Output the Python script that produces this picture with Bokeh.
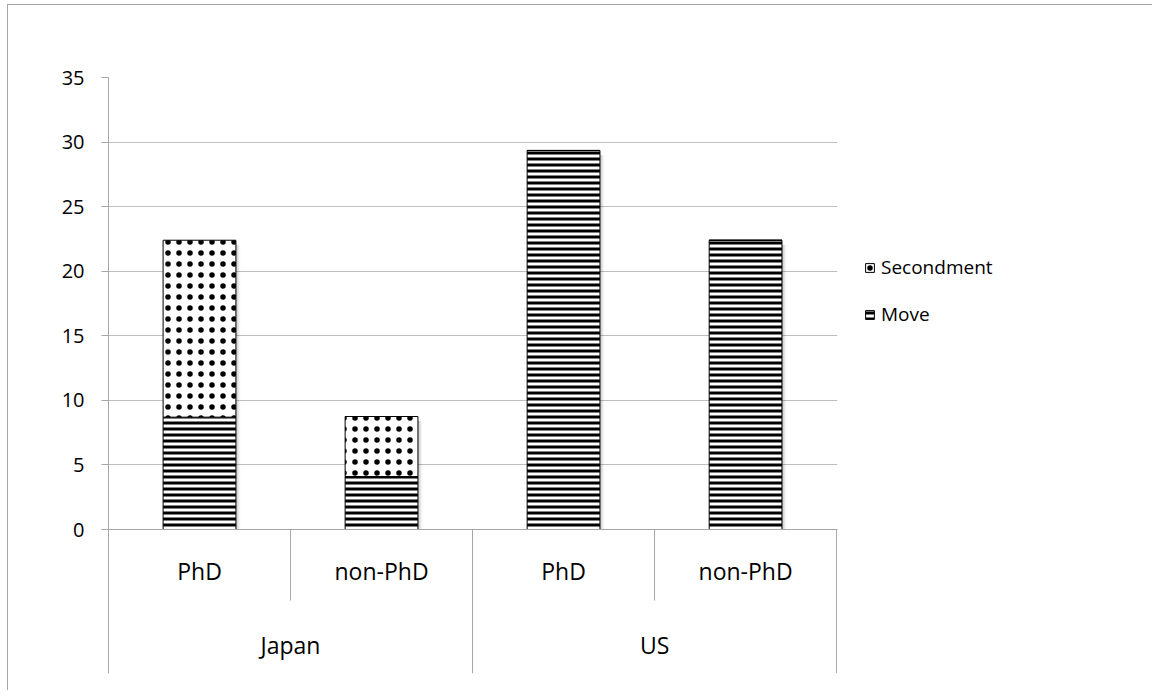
from bokeh.plotting import figure
from bokeh.models import (ColumnDataSource, FixedTicker, Range1d, Span, Legend,
                          LegendItem)
from bokeh.core.properties import value
from bokeh.embed import file_html
from bokeh.resources import INLINE

# ---- data ----
groups = ["Japan", "Japan", "US", "US"]
sub_labels = ["PhD", "non-PhD", "PhD", "non-PhD"]
move = [8.7, 4.1, 29.35, 22.4]
secondment = [13.7, 4.65, 0.0, 0.0]
y_ticks = [0, 5, 10, 15, 20, 25, 30, 35]

FONT = "Open Sans"
GRID = "#bebebe"
AXIS = "#a6a6a6"

n = len(sub_labels)
xs = [i + 0.5 for i in range(n)]
totals = [m + s for m, s in zip(move, secondment)]
src = ColumnDataSource(dict(x=xs, move=move, secondment=secondment))

Y_BOTTOM = -11.15
p = figure(frame_width=729, frame_height=596, output_backend="svg",
           toolbar_location=None,
           x_range=Range1d(0, n + 0.005), y_range=Range1d(Y_BOTTOM, 35),
           min_border_left=100, min_border_right=0,
           min_border_top=72, min_border_bottom=17,
           background_fill_color="white", border_fill_color="white",
           outline_line_color=None)
p.styles = {"margin-top": "-4px", "margin-left": "-1px",
            "transform": "translate(8px, 8px)", "min-width": "1136px",
            "background-color": "white",
            "border-top": "1px solid #a6a6a6", "border-left": "1px solid #a6a6a6"}

p.xaxis.visible = False
p.xgrid.visible = False
p.ygrid.ticker = FixedTicker(ticks=y_ticks)
p.ygrid.grid_line_color = GRID
ya = p.yaxis[0]
ya.ticker = FixedTicker(ticks=y_ticks)
ya.axis_line_color = AXIS
ya.major_tick_line_color = AXIS
ya.major_tick_out = 7
ya.major_tick_in = 0
ya.minor_tick_line_color = None
ya.major_label_standoff = 17
ya.major_label_text_font = FONT
ya.major_label_text_font_size = "20px"
ya.major_label_text_color = "#000000"

p.add_layout(Span(location=0, dimension="width", line_color=AXIS, line_width=1))

# category separators
inner_x = [i for i in range(1, n) if groups[i] == groups[i - 1]]
outer_x = [i for i in range(1, n) if groups[i] != groups[i - 1]] + [n]
p.segment(x0=inner_x, x1=inner_x, y0=[0] * len(inner_x), y1=[-5.5] * len(inner_x),
          line_color=AXIS, line_width=1)
p.segment(x0=outer_x, x1=outer_x, y0=[0] * len(outer_x), y1=[Y_BOTTOM] * len(outer_x),
          line_color=AXIS, line_width=1)

# soft bar shadow (to the right of each bar)
for off, alpha in [(0.008, 0.10), (0.016, 0.07), (0.024, 0.04)]:
    p.vbar(x=[x + off for x in xs], top=[t - 0.35 for t in totals], bottom=0,
           width=0.4, fill_color="black", fill_alpha=alpha, line_color=None)

# bars
rs = p.vbar_stack(["move", "secondment"], x="x", width=0.4, source=src,
                  fill_color="white", line_color="black", line_width=1,
                  hatch_color="black",
                  hatch_pattern=["horizontal_line", "dot"],
                  hatch_scale=[6, 11], hatch_weight=[3, 1.2])

# category labels
p.text(x=xs, y=[-3.25] * n, text=sub_labels, text_align="center",
       text_baseline="middle", text_font=value(FONT), text_font_size="23px",
       text_color="#000000")
gnames, gx = [], []
start = 0
for i in range(1, n + 1):
    if i == n or groups[i] != groups[start]:
        gnames.append(groups[start])
        gx.append((start + i) / 2)
        start = i
p.text(x=gx, y=[-8.98] * len(gx), text=gnames, text_align="center",
       text_baseline="middle", text_font=value(FONT), text_font_size="23px",
       text_color="#000000")

legend = Legend(items=[LegendItem(label="Secondment", renderers=[rs[1]]),
                       LegendItem(label="Move", renderers=[rs[0]])],
                location=(27, 346), orientation="vertical",
                glyph_width=11, glyph_height=11, label_height=26, spacing=21,
                label_standoff=6, padding=0, margin=0,
                border_line_color=None, background_fill_color=None,
                label_text_font=FONT, label_text_font_size="19px",
                label_text_color="#000000")
p.add_layout(legend, "right")

open("out.html", "w").write(file_html(p, INLINE))
